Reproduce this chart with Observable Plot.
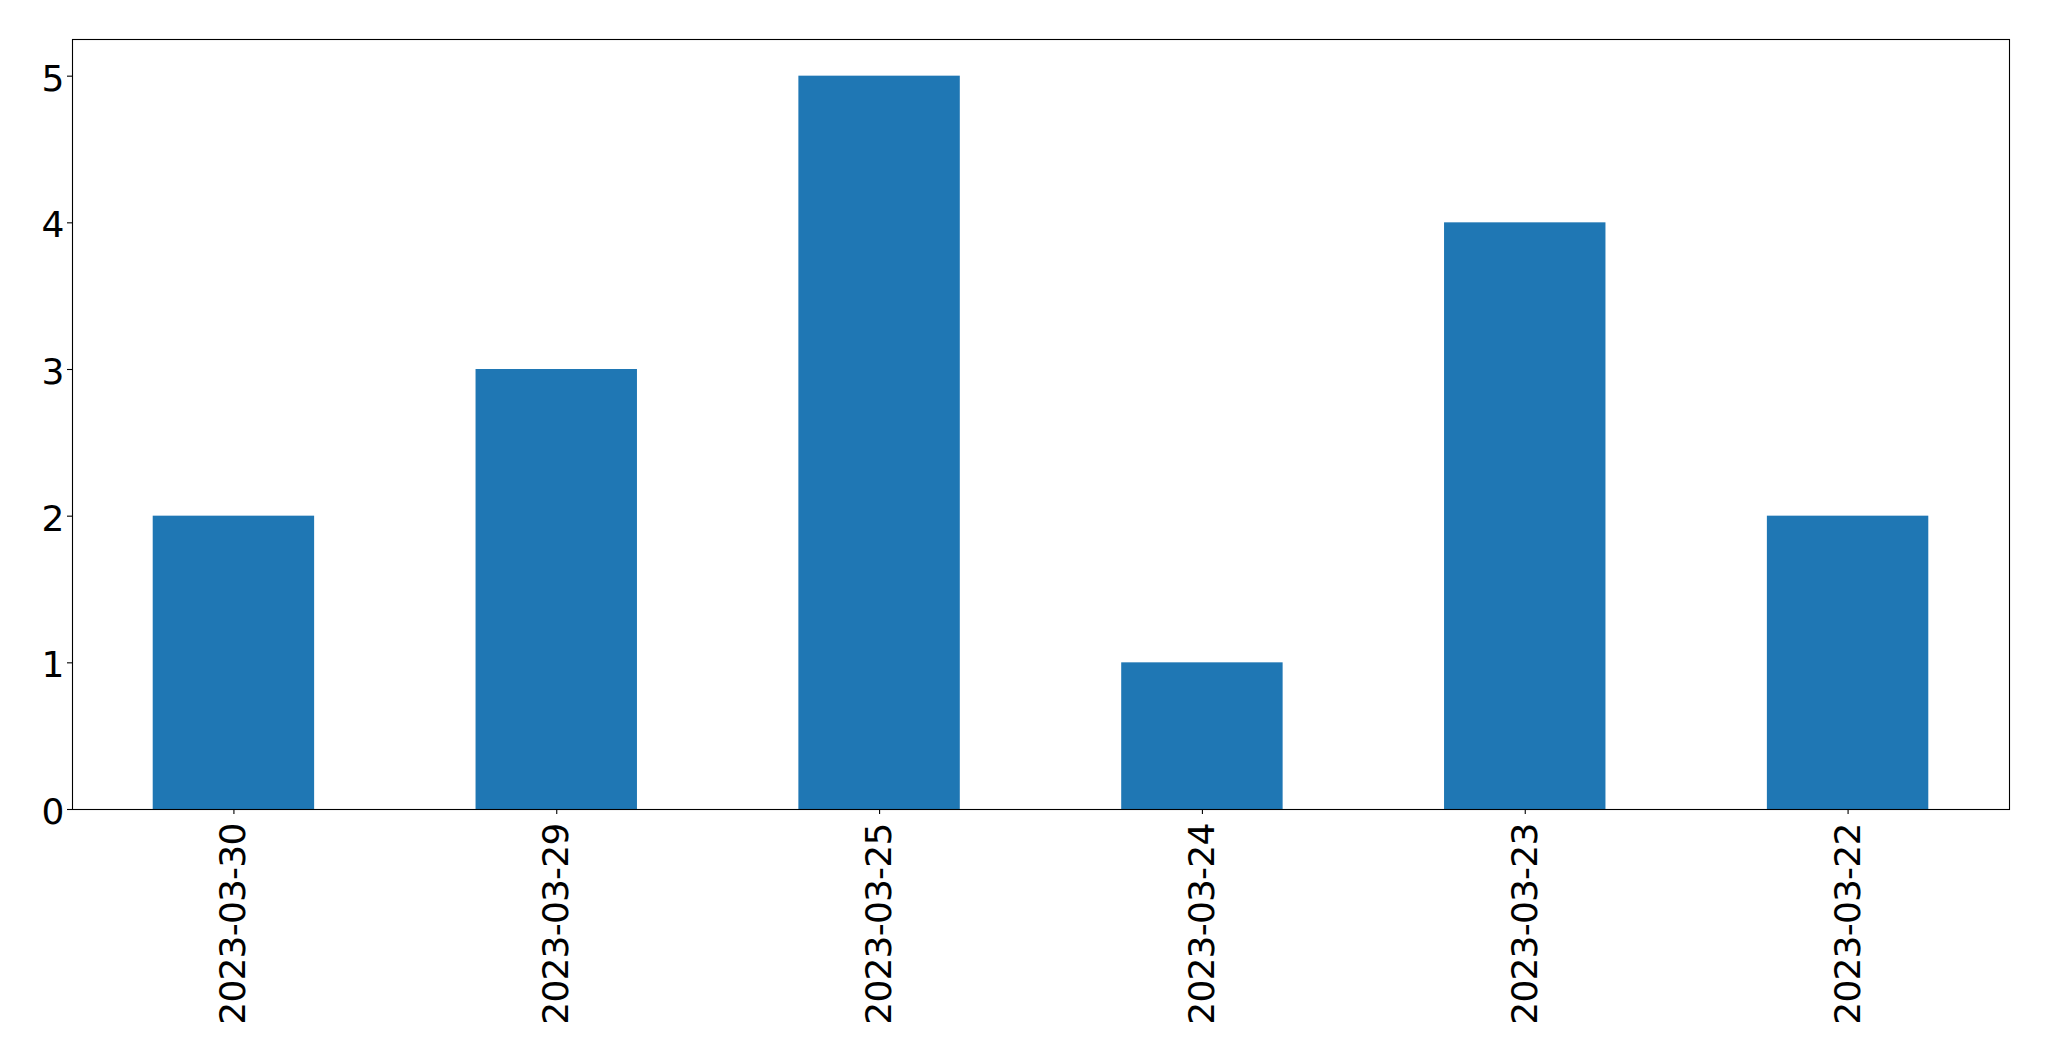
<!DOCTYPE html>
<html><head><meta charset="utf-8">
<script src="https://cdn.jsdelivr.net/npm/d3@7"></script>
<script src="https://cdn.jsdelivr.net/npm/@observablehq/plot@0.6"></script>
<style>html,body{margin:0;padding:0;background:#fff;}</style>
</head><body><div id="chart"></div>
<script>
const dates = ["2023-03-30", "2023-03-29", "2023-03-25", "2023-03-24", "2023-03-23", "2023-03-22"];
const counts = [2, 3, 5, 1, 4, 2];
const yTicks = [0, 1, 2, 3, 4, 5];
const data = dates.map((d, i) => ({date: d, count: counts[i]}));

const chart = Plot.plot({
  width: 2049,
  height: 1061,
  marginLeft: 72,
  marginRight: 40,
  marginTop: 39,
  marginBottom: 252,
  style: {fontFamily: "DejaVu Sans", fontSize: "36px", color: "black", background: "white", overflow: "visible"},
  x: {domain: dates, paddingInner: 0.5, paddingOuter: 0.25, round: false, label: null},
  y: {domain: [0, 5.25], label: null},
  marks: [
    Plot.barY(data, {x: "date", y: "count", fill: "#1f77b4"}),
    Plot.axisX({tickRotate: -90, tickSize: 5, tickPadding: 9, strokeWidth: 1.1, fontSize: 36, fill: "black", label: null}),
    Plot.axisY({ticks: yTicks, tickSize: 5, tickPadding: 3, strokeWidth: 1.1, fontSize: 36, fill: "black", tickFormat: d => String(d), label: null}),
    Plot.frame({stroke: "black", strokeWidth: 1.1})
  ]
});
chart.querySelectorAll("[aria-label='x-axis tick label'] text").forEach(t => t.setAttribute("letter-spacing", "-0.8"));
chart.querySelectorAll("[aria-label='y-axis tick label']").forEach(g => g.setAttribute("transform", (g.getAttribute("transform") || "") + " translate(0,3)"));
document.getElementById("chart").appendChild(chart);
</script>
</body></html>
